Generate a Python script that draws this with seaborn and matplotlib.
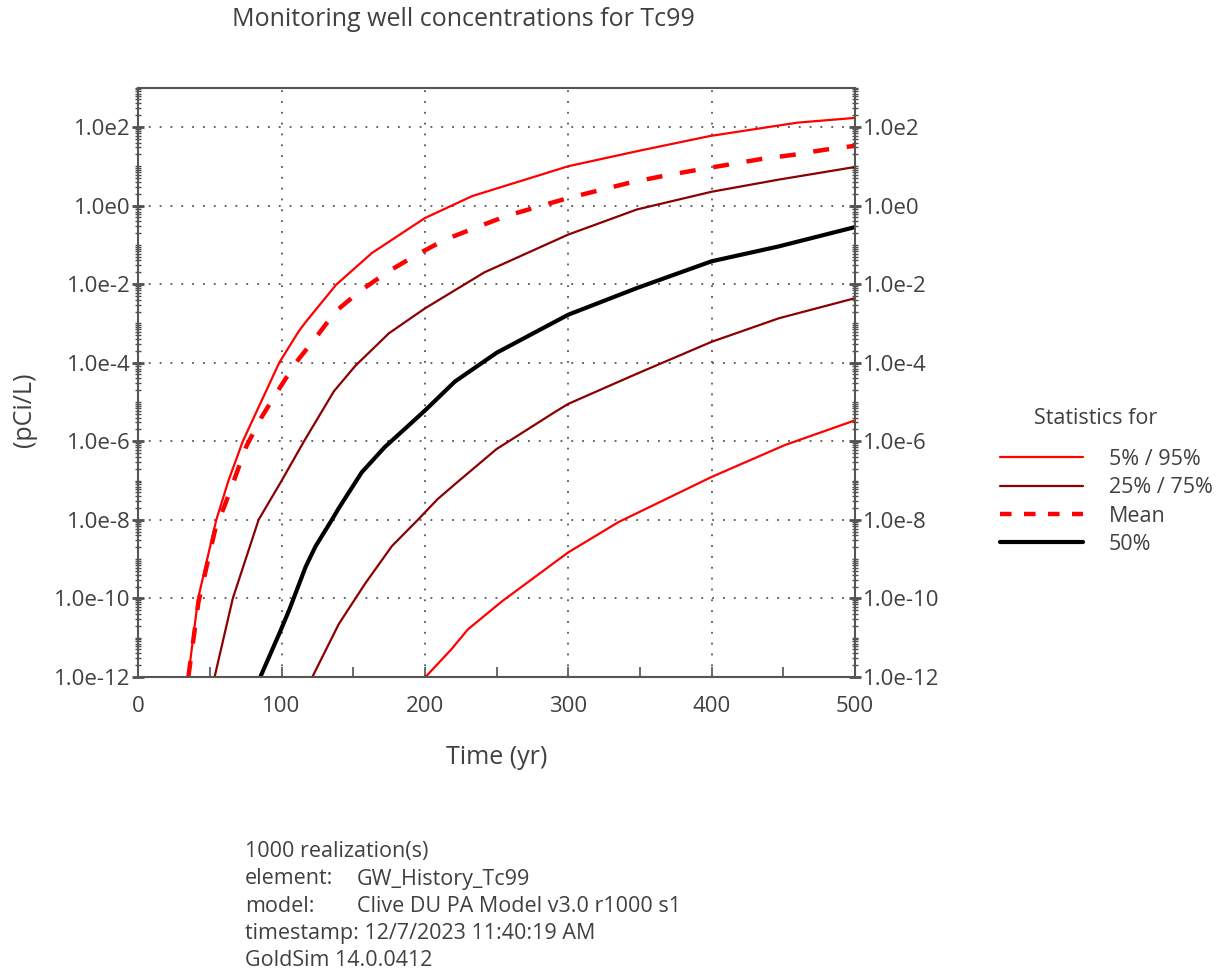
import numpy as np
import pandas as pd
import matplotlib
matplotlib.use("Agg")
import matplotlib.pyplot as plt
from matplotlib.ticker import LogLocator, FuncFormatter, MultipleLocator
from matplotlib.lines import Line2D
import seaborn as sns

# Values (time in yr, log10 of concentration in pCi/L)
t_p95 = [34.9, 41.8, 54.5, 63, 73, 98.4, 112.2, 117, 138, 163, 200, 233, 293, 300, 349, 399, 460, 500]
v_p95 = [-12, -10, -8, -7.0, -6, -4, -3.19, -2.96, -2.02, -1.21, -0.32, 0.24, 0.92, 1.0, 1.39, 1.77, 2.11, 2.23]

t_mean = [35, 42, 54, 60.3, 67.2, 75.3, 85.7, 97.2, 110, 125, 137.6, 155, 174.5, 193.5, 214, 235,
          256.6, 278, 300, 322, 344, 366, 389, 410, 434, 457, 479, 496, 500]
v_mean = [-12, -10.1, -8.2, -7.64, -6.96, -6.14, -5.41, -4.73, -4.0, -3.31, -2.70, -2.17, -1.68, -1.27,
          -0.87, -0.57, -0.27, -0.04, 0.19, 0.39, 0.59, 0.75, 0.90, 1.03, 1.18, 1.29, 1.42, 1.50, 1.52]

t_p75 = [53.3, 66, 84, 99.5, 115.7, 136.5, 151.5, 175, 200, 241.6, 300, 348, 400, 447, 500]
v_p75 = [-12, -10, -8, -7.04, -6.0, -4.73, -4.08, -3.25, -2.62, -1.70, -0.74, -0.10, 0.35, 0.66, 0.98]

t_p50 = [85.2, 98.4, 105.3, 116.9, 123.8, 135.3, 140, 156, 172, 188, 200, 221, 250, 300, 348, 400, 447, 500]
v_p50 = [-12, -10.9, -10.3, -9.19, -8.67, -7.99, -7.7, -6.79, -6.15, -5.62, -5.22, -4.48, -3.75, -2.78,
         -2.10, -1.42, -1.04, -0.55]

t_p25 = [121.5, 140, 158.4, 177, 195.4, 209, 224, 250, 291, 300, 348, 400, 447, 500]
v_p25 = [-12, -10.65, -9.62, -8.67, -7.99, -7.47, -7.0, -6.2, -5.25, -5.05, -4.28, -3.47, -2.87, -2.36]

t_p05 = [200.5, 218.4, 230, 254, 300, 335, 400, 451, 500]
v_p05 = [-12, -11.3, -10.79, -10.07, -8.83, -8.06, -6.91, -6.10, -5.47]

legend_labels = ["5% / 95%", "25% / 75%", "Mean", "50%"]
info_lines = [
    ("1000 realization(s)", ""),
    ("element:", "GW_History_Tc99"),
    ("model:", "Clive DU PA Model v3.0 r1000 s1"),
    ("timestamp: 12/7/2023 11:40:19 AM", ""),
    ("GoldSim 14.0.0412", ""),
]

RED = "#ff0000"
DARKRED = "#8b0000"
TEXT = "#404040"

sns.set_style("white")
plt.rcParams["font.family"] = ["Open Sans", "DejaVu Sans"]

fig = plt.figure(figsize=(12.23, 9.74), dpi=100)
ax = fig.add_axes([0.113, 0.305, 0.586, 0.605])


def make_df(t, v):
    return pd.DataFrame({"t": t, "c": 10.0 ** np.array(v)})


dash = (3.6, 4.0)
sns.lineplot(data=make_df(t_p05, v_p05), x="t", y="c", ax=ax, color=RED, lw=1.6, sort=False)
sns.lineplot(data=make_df(t_p25, v_p25), x="t", y="c", ax=ax, color=DARKRED, lw=1.6, sort=False)
sns.lineplot(data=make_df(t_p50, v_p50), x="t", y="c", ax=ax, color="black", lw=3.0, sort=False)
sns.lineplot(data=make_df(t_p75, v_p75), x="t", y="c", ax=ax, color=DARKRED, lw=1.6, sort=False)
sns.lineplot(data=make_df(t_mean, v_mean), x="t", y="c", ax=ax, color=RED, lw=3.2, sort=False)
ax.lines[-1].set_dashes(dash)
sns.lineplot(data=make_df(t_p95, v_p95), x="t", y="c", ax=ax, color=RED, lw=1.6, sort=False)

ax.set_yscale("log")
ax.set_xlim(0, 500)
ax.set_ylim(1e-12, 1e3)

ax.xaxis.set_major_locator(MultipleLocator(100))
ax.xaxis.set_minor_locator(MultipleLocator(50))
ax.yaxis.set_major_locator(LogLocator(base=100, numticks=20))
ax.yaxis.set_minor_locator(LogLocator(base=10, subs=np.arange(1, 10), numticks=40))
ax.yaxis.set_major_formatter(FuncFormatter(lambda y, p: "1.0e%d" % int(round(np.log10(y)))))
ax.yaxis.set_minor_formatter(FuncFormatter(lambda y, p: ""))

ax.tick_params(axis="y", which="both", left=True, right=True, labelleft=True, labelright=True,
               direction="inout", colors="#505050", labelcolor=TEXT, labelsize=16)
ax.tick_params(axis="y", which="major", length=9, width=2, pad=1)
ax.tick_params(axis="y", which="minor", length=5, width=1)
ax.tick_params(axis="x", which="both", bottom=True, direction="in", colors="#505050",
               labelcolor=TEXT, labelsize=16, length=7, width=1.2, pad=14)

for s in ax.spines.values():
    s.set_color("#555555")
    s.set_linewidth(1.5)

ax.grid(True, which="major", linestyle=(0, (1, 5)), color="#555555", lw=1.3)
ax.set_axisbelow(True)

ax.set_xlabel("Time (yr)", fontsize=18, color=TEXT, labelpad=20)
ax.set_ylabel("")
fig.text(25 / 1223, 1 - 410 / 974, "(pCi/L)", fontsize=18, color=TEXT, rotation=90,
         ha="center", va="center")

fig.text(463 / 1223, 1 - 20 / 974, "Monitoring well concentrations for Tc99", fontsize=18,
         color=TEXT, ha="center", va="center")

# legend block
fig.text(1096 / 1223, 1 - 419 / 974, "Statistics for", fontsize=15.5, color=TEXT,
         ha="center", va="center")
handles = [
    Line2D([], [], color=RED, lw=1.6),
    Line2D([], [], color=DARKRED, lw=1.6),
    Line2D([], [], color=RED, lw=3.2, dashes=(2.6, 2.8)),
    Line2D([], [], color="black", lw=3.0),
]
leg = fig.legend(handles, legend_labels, frameon=False,
                 loc="upper left", bbox_to_anchor=(1000 / 1223, 1 - 449 / 974),
                 fontsize=15.5, handlelength=3.85, handletextpad=1.2,
                 labelspacing=0.34, borderpad=0, borderaxespad=0)
for txt in leg.get_texts():
    txt.set_color(TEXT)

x_label, x_value = 245 / 1223, 357 / 1223
for i, (left, right) in enumerate(info_lines):
    y = 1 - (852 + 27 * i) / 974
    fig.text(x_label, y, left, fontsize=15.5, color=TEXT, va="center")
    if right:
        fig.text(x_value, y, right, fontsize=15.5, color=TEXT, va="center")

fig.savefig("out.png", dpi=100)
